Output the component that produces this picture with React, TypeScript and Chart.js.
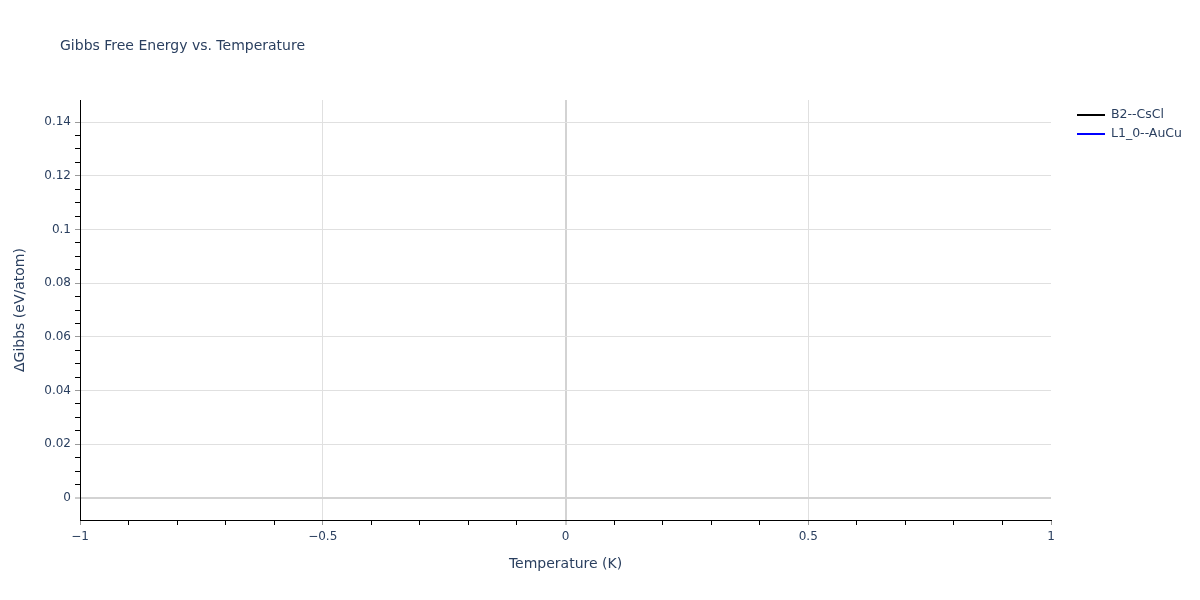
import { useEffect, useRef } from 'react';
import { Chart, registerables } from 'chart.js';

Chart.register(...registerables);

// series (no visible points in the reference, the traces are empty)
const seriesNames = ['B2--CsCl', 'L1_0--AuCu'];
const seriesColors = ['#000000', '#0000ff'];
const temperatures: number[] = [];
const b2CsCl: number[] = [];
const l10AuCu: number[] = [];

// axis ranges and tick steps
const xRange = [-1, 1];
const yRange = [-0.0082, 0.1482];
const xMinorStep = 0.1;
const xMajorStep = 0.5;
const yMinorStep = 0.005;
const yMajorStep = 0.02;

const FONT = '"DejaVu Sans", verdana, arial, sans-serif';
const TEXT = '#2a3f5f';
const GRID = '#e0e0e0';
const ZERO = '#d3d3d3';

const onStep = (v: number, step: number) => Math.abs(v / step - Math.round(v / step)) < 1e-6;
const fmt = (v: number) => {
    const s = String(Number(Math.abs(v).toFixed(4)));
    return v < -1e-9 ? '\u2212' + s : s;
};

const overlay = {
    id: 'overlay',
    afterDraw(chart: Chart) {
        const c = chart.ctx;
        c.save();
        c.fillStyle = TEXT;
        c.textAlign = 'left';
        c.textBaseline = 'middle';
        c.font = `14px ${FONT}`;
        c.fillText('Gibbs Free Energy vs. Temperature', 60, 46);

        c.font = `12.5px ${FONT}`;
        seriesNames.forEach((name, i) => {
            const y = 115 + i * 19;
            c.strokeStyle = seriesColors[i];
            c.lineWidth = 2;
            c.beginPath();
            c.moveTo(1077, y);
            c.lineTo(1105, y);
            c.stroke();
            c.fillStyle = TEXT;
            c.fillText(name, 1111, y);
        });
        c.restore();
    },
};

export default function App() {
    const canvasRef = useRef<HTMLCanvasElement | null>(null);

    useEffect(() => {
        document.body.style.margin = '0';
        if (!canvasRef.current) {
            return;
        }

        const chart = new Chart(canvasRef.current, {
            type: 'line',
            data: {
                datasets: [
                    {
                        label: seriesNames[0],
                        data: temperatures.map((t, i) => ({ x: t, y: b2CsCl[i] })),
                        borderColor: seriesColors[0],
                        borderWidth: 2,
                        pointRadius: 0,
                    },
                    {
                        label: seriesNames[1],
                        data: temperatures.map((t, i) => ({ x: t, y: l10AuCu[i] })),
                        borderColor: seriesColors[1],
                        borderWidth: 2,
                        pointRadius: 0,
                    },
                ],
            },
            options: {
                animation: false,
                responsive: true,
                maintainAspectRatio: false,
                layout: { padding: { left: 0, right: 149, top: 100, bottom: 0 } },
                plugins: {
                    legend: { display: false },
                    title: { display: false },
                    tooltip: { enabled: false },
                },
                scales: {
                    x: {
                        type: 'linear',
                        min: xRange[0],
                        max: xRange[1],
                        afterBuildTicks: (s: any) => {
                            s.ticks = s.ticks.filter((t: any) => onStep(t.value, xMinorStep));
                        },
                        afterFit: (s: any) => {
                            s.height = 80;
                        },
                        ticks: {
                            stepSize: xMinorStep,
                            autoSkip: false,
                            maxRotation: 0,
                            padding: 5,
                            color: TEXT,
                            font: { family: FONT, size: 12 },
                            callback: (v: any) => (onStep(Number(v), xMajorStep) ? fmt(Number(v)) : ''),
                        },
                        grid: {
                            color: (ctx: any) => {
                                const v = ctx.tick ? ctx.tick.value : NaN;
                                if (Math.abs(v) < 1e-9) return ZERO;
                                if (Math.abs(Math.abs(v) - 1) < 1e-9) return 'rgba(0,0,0,0)';
                                return onStep(v, xMajorStep) ? GRID : 'rgba(0,0,0,0)';
                            },
                            lineWidth: (ctx: any) => (ctx.tick && Math.abs(ctx.tick.value) < 1e-9 ? 2 : 1),
                            tickLength: 5,
                            tickColor: (ctx: any) =>
                                ctx.tick && onStep(ctx.tick.value, xMajorStep) ? '#9a9a9a' : '#000000',
                            tickWidth: 1,
                        },
                        border: { color: '#000000', width: 1 },
                        title: {
                            display: true,
                            text: 'Temperature (K)',
                            color: TEXT,
                            font: { family: FONT, size: 14 },
                            padding: { top: 0, bottom: 27 },
                        },
                    },
                    y: {
                        type: 'linear',
                        min: yRange[0],
                        max: yRange[1],
                        afterBuildTicks: (s: any) => {
                            s.ticks = s.ticks.filter((t: any) => onStep(t.value, yMinorStep));
                        },
                        afterFit: (s: any) => {
                            s.width = 80;
                        },
                        ticks: {
                            stepSize: yMinorStep,
                            autoSkip: false,
                            padding: 4,
                            color: TEXT,
                            font: { family: FONT, size: 12 },
                            callback: (v: any) => (onStep(Number(v), yMajorStep) ? fmt(Number(v)) : ''),
                        },
                        grid: {
                            color: (ctx: any) => {
                                const v = ctx.tick ? ctx.tick.value : NaN;
                                if (Math.abs(v) < 1e-9) return ZERO;
                                return onStep(v, yMajorStep) ? GRID : 'rgba(0,0,0,0)';
                            },
                            lineWidth: (ctx: any) => (ctx.tick && Math.abs(ctx.tick.value) < 1e-9 ? 2 : 1),
                            tickLength: 5,
                            tickColor: (ctx: any) =>
                                ctx.tick && onStep(ctx.tick.value, yMajorStep) ? '#9a9a9a' : '#000000',
                            tickWidth: 1,
                        },
                        border: { color: '#000000', width: 1 },
                        title: {
                            display: true,
                            text: '\u0394Gibbs (eV/atom)',
                            color: TEXT,
                            font: { family: FONT, size: 14 },
                            padding: { top: 12, bottom: 0 },
                        },
                    },
                },
            },
            plugins: [overlay],
        });
        return () => chart.destroy();
    }, []);

    return (
        <div style={{ width: '1200px', height: '600px', background: '#fff' }}>
            <canvas ref={canvasRef} />
        </div>
    );
}
